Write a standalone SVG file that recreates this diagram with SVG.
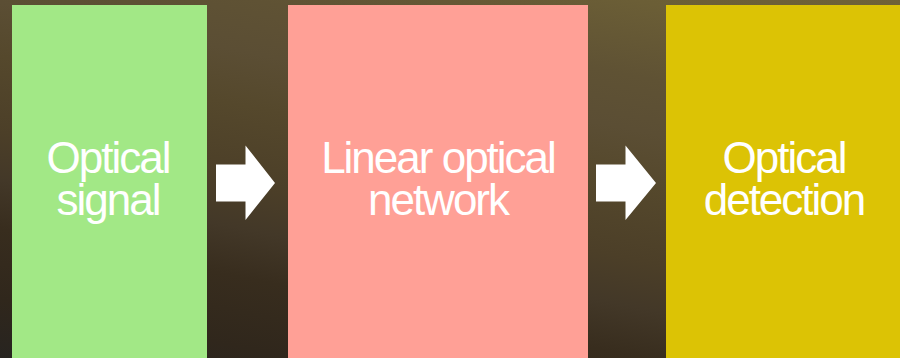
<svg xmlns="http://www.w3.org/2000/svg" width="900" height="358" viewBox="0 0 900 358">
  <defs>
    <linearGradient id="bg" gradientUnits="userSpaceOnUse" x1="900" y1="0" x2="796.6" y2="517">
      <stop offset="0" stop-color="#6f6238"/>
      <stop offset="0.10" stop-color="#6b5e36"/>
      <stop offset="0.24" stop-color="#5f5234"/>
      <stop offset="0.34" stop-color="#5b4e34"/>
      <stop offset="0.44" stop-color="#55482c"/>
      <stop offset="0.58" stop-color="#4c3f28"/>
      <stop offset="0.67" stop-color="#433828"/>
      <stop offset="0.76" stop-color="#382d1e"/>
      <stop offset="0.89" stop-color="#30271c"/>
      <stop offset="1" stop-color="#272420"/>
    </linearGradient>
    <style>
      .lbl { font-family: "Liberation Sans", Arial, Helvetica, sans-serif; font-size: 44px; fill: #ffffff; text-anchor: middle; letter-spacing: -2px; }
      .arrow { fill: #ffffff; }
    </style>
  </defs>
  <rect x="0" y="0" width="900" height="358" fill="url(#bg)"/>
  <g id="node-signal">
    <rect x="12" y="5" width="195" height="353" fill="#a2e886"/>
    <text class="lbl"><tspan x="108" y="173">Optical</tspan><tspan x="108" y="215">signal</tspan></text>
  </g>
  <g id="node-network">
    <rect x="288" y="5" width="300" height="353" fill="#ffa096"/>
    <text class="lbl"><tspan x="438" y="173">Linear optical</tspan><tspan x="438" y="215">network</tspan></text>
  </g>
  <g id="node-detection">
    <rect x="666" y="5" width="234" height="353" fill="#dcc305"/>
    <text class="lbl"><tspan x="784" y="173">Optical</tspan><tspan x="784" y="215">detection</tspan></text>
  </g>
  <g id="connectors">
    <polygon class="arrow" points="216,164.5 245.5,164.5 245.5,145.5 275,183 245.5,220 245.5,201.5 216,201.5"/>
    <polygon class="arrow" points="596,164.5 625.5,164.5 625.5,145.5 656,183 625.5,220 625.5,201.5 596,201.5"/>
  </g>
</svg>
